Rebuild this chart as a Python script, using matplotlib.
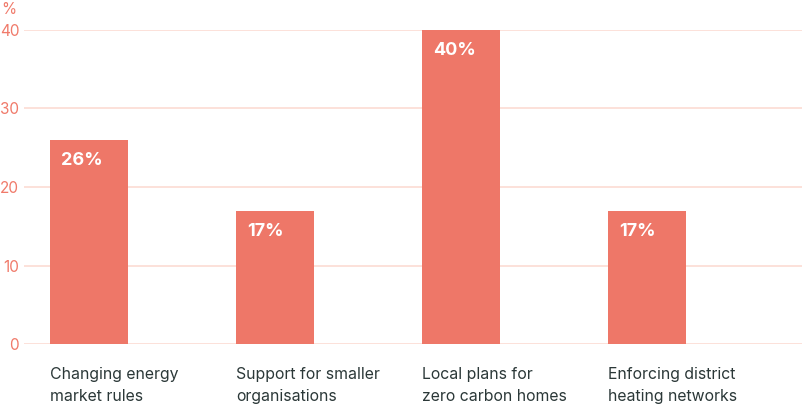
import matplotlib

matplotlib.use("Agg")
import matplotlib.pyplot as plt

categories = ["Changing energy\nmarket rules", "Support for smaller\norganisations",
              "Local plans for\nzero carbon homes", "Enforcing district\nheating networks"]
values = [26, 17, 40, 17]
yticks = [0, 10, 20, 30, 40]

BAR = "#ee7768"
GRID = "#fcdcd3"
TICK = "#f07a6a"
TEXT = "#2b3838"

plt.rcParams["font.family"] = ["Inter", "DejaVu Sans"]

W, H = 803, 405
fig = plt.figure(figsize=(W / 100, H / 100), dpi=100)
ax = fig.add_axes([24 / W, (H - 344) / H, (W - 24) / W, (344 - 30) / H])

xs = list(range(len(values)))
bw = 78 / 186
ax.bar(xs, values, width=bw, align="edge", color=BAR, zorder=3)
ax.set_xlim(-26 / 186, (W - 50) / 186)
ax.set_ylim(0, 40)

ax.set_yticks(yticks)
ax.set_yticklabels([str(t) for t in yticks], color=TICK, fontsize=11)
ax.tick_params(axis="y", length=0, pad=3.5)
ax.set_xticks([])
ax.grid(axis="y", color=GRID, lw=1.2, zorder=0)
for s in ax.spines.values():
    s.set_visible(False)

for x, v, c in zip(xs, values, categories):
    ax.annotate(f"{v}%", (x, v), xytext=(8, -9), textcoords="offset points",
                ha="left", va="top", color="white", fontsize=13, fontweight="bold")
    ax.annotate(c, (x, 0), xytext=(0, -16.5), textcoords="offset points",
                ha="left", va="top", color=TEXT, fontsize=11.4, linespacing=1.6)

fig.text(1 / W, 1 - 2 / H, "%", color=TICK, fontsize=11, ha="left", va="top")

fig.savefig("out.png", dpi=100)
